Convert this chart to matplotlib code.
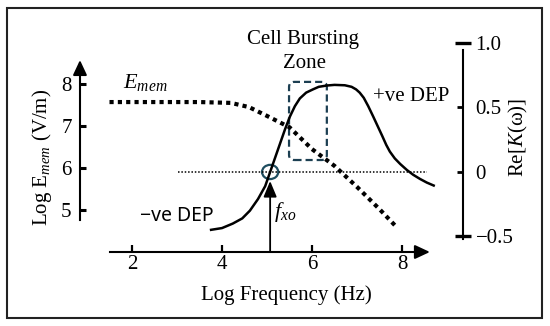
import matplotlib
matplotlib.use("Agg")
import matplotlib.pyplot as plt
from matplotlib.patches import Rectangle, FancyBboxPatch, Ellipse
from matplotlib.ticker import FixedLocator, FixedFormatter

plt.rcParams['font.family'] = ['Liberation Serif', 'DejaVu Serif']
plt.rcParams['mathtext.fontset'] = 'custom'
plt.rcParams['mathtext.rm'] = 'Liberation Serif'
plt.rcParams['mathtext.it'] = 'Liberation Serif:italic'
plt.rcParams['mathtext.bf'] = 'Liberation Serif:bold'

# ---- data ----
freq_E = [1.5, 2.5, 3.5, 4.2, 4.6, 5.0, 5.5, 6.0, 6.5, 7.0, 7.5, 7.9]
E_mem = [7.57, 7.57, 7.57, 7.55, 7.45, 7.24, 6.97, 6.45, 6.05, 5.55, 5.02, 4.57]

freq_K = [3.73, 4.0, 4.24, 4.45, 4.62, 4.8, 4.96, 5.07, 5.18, 5.29, 5.4, 5.51,
          5.62, 5.73, 5.87, 6.02, 6.15, 6.33, 6.5, 6.73, 6.88, 6.98, 7.06, 7.15, 7.25,
          7.36, 7.46, 7.56, 7.65, 7.73, 7.84, 7.96, 8.11, 8.25, 8.4, 8.55, 8.73]
K_re = [-0.45, -0.435, -0.40, -0.36, -0.30, -0.21, -0.11, 0.0, 0.11, 0.22, 0.33, 0.43,
        0.51, 0.57, 0.615, 0.64, 0.66, 0.67, 0.675, 0.672, 0.66, 0.64, 0.615, 0.575, 0.51,
        0.43, 0.355, 0.28, 0.21, 0.158, 0.105, 0.062, 0.015, -0.022, -0.054, -0.082, -0.109]

x_ticks = [2, 4, 6, 8]
x_ticklabels = ['2', '4', '6', '8']
E_ticks = [5, 6, 7, 8]
E_ticklabels = ['5', '6', '7', '8']
K_major = [0.0, 0.5]
K_major_labels = ['0', '0.5']
K_minor = [-0.5, 1.0]
K_minor_labels = ['\u22120.5', '1.0']

f_xo = 5.07
zone_lo, zone_hi = 5.49, 6.33
zone_E_lo, zone_E_hi = 6.19, 8.05
zero_line_x = [3.02, 8.56]

fig = plt.figure(figsize=(5.5, 3.26), dpi=100)
ax = fig.add_axes([0, 0, 1, 1])
ax.set_xlim(-0.933, 11.289)
ax.set_ylim(2.238, 10.0)
ax.patch.set_alpha(0)
ax2 = ax.twinx()
ax2.set_ylim(-1.194, 1.333)

lw_ax = 1.5
# left / bottom axes
for s in ['top', 'right']:
    ax.spines[s].set_visible(False)
ax.spines['left'].set_position(('data', 0.844))
ax.spines['left'].set_bounds(4.76, 8.3)
ax.spines['left'].set_linewidth(lw_ax)
ax.spines['bottom'].set_position(('data', 4.0))
ax.spines['bottom'].set_bounds(1.51, 8.4)
ax.spines['bottom'].set_linewidth(lw_ax)

ax.xaxis.set_major_locator(FixedLocator(x_ticks))
ax.xaxis.set_major_formatter(FixedFormatter(x_ticklabels))
ax.yaxis.set_major_locator(FixedLocator(E_ticks))
ax.yaxis.set_major_formatter(FixedFormatter(E_ticklabels))
ax.tick_params(axis='x', direction='in', length=5, width=1.6, labelsize=15, pad=2)
ax.tick_params(axis='y', direction='in', length=4, width=2.2, labelsize=15, pad=6)

# arrow heads for axes
ax.annotate('', xy=(0.844, 8.57), xytext=(0.844, 8.2),
            arrowprops=dict(arrowstyle='-|>,head_length=0.6,head_width=0.28',
                            lw=lw_ax, color='k', mutation_scale=15, shrinkA=0, shrinkB=0))
ax.annotate('', xy=(8.62, 4.0), xytext=(8.3, 4.0),
            arrowprops=dict(arrowstyle='-|>,head_length=0.6,head_width=0.28',
                            lw=lw_ax, color='k', mutation_scale=15, shrinkA=0, shrinkB=0))

# right axis
for s in ['top', 'left', 'bottom']:
    ax2.spines[s].set_visible(False)
ax2.spines['right'].set_position(('data', 9.356))
ax2.spines['right'].set_bounds(-0.52, 0.946)
ax2.spines['right'].set_linewidth(lw_ax)
ax2.yaxis.set_major_locator(FixedLocator(K_major))
ax2.yaxis.set_major_formatter(FixedFormatter(K_major_labels))
ax2.yaxis.set_minor_locator(FixedLocator(K_minor))
ax2.yaxis.set_minor_formatter(FixedFormatter(K_minor_labels))
ax2.tick_params(axis='y', which='major', direction='in', length=4, width=2.0,
                labelsize=15, pad=9)
ax2.tick_params(axis='y', which='minor', direction='inout', length=12, width=2.4,
                labelsize=15, pad=3, labelright=True)

# curves
ax.plot(freq_E, E_mem, color='k', lw=3, linestyle=(0, (1, 1)), dash_capstyle='butt')
ax2.plot(freq_K, K_re, color='k', lw=1.8, solid_capstyle='butt', solid_joinstyle='round')
ax2.plot(zero_line_x, [0, 0], color='k', lw=1.1, linestyle=(0, (1, 1.2)))

# crossover circle & arrow
ax2.add_patch(Ellipse((f_xo, 0.0), 0.36, 0.11, fill=False, ec='#1f4e60', lw=1.6))
ax.annotate('', xy=(f_xo, 5.69), xytext=(f_xo, 4.0),
            arrowprops=dict(arrowstyle='-|>,head_length=0.6,head_width=0.25',
                            lw=1.3, color='k', mutation_scale=16, shrinkA=0, shrinkB=0))

# bursting zone box
ax.add_patch(FancyBboxPatch((zone_lo, zone_E_lo), zone_hi - zone_lo, zone_E_hi - zone_E_lo,
                            boxstyle='round,pad=0,rounding_size=0.12',
                            fill=False, ec='#1c3f52', lw=1.6, linestyle=(0, (3.2, 1.8))))

# texts
ax.text(5.8, 9.07, 'Cell Bursting', ha='center', va='center', fontsize=15)
ax.text(5.84, 8.48, 'Zone', ha='center', va='center', fontsize=15)
ax.text(8.2, 7.71, '+ve DEP', ha='center', va='center', fontsize=15)
ax.text(3.0, 4.86, '\u2212ve DEP', ha='center', va='center', fontsize=14,
        family=['Noto Sans', 'DejaVu Sans'])
ax.text(1.8, 7.9, r'$E_{mem}$', ha='left', va='baseline', fontsize=16)
ax.text(5.16, 4.95, r'$f_{xo}$', ha='left', va='center', fontsize=16)
ax.text(5.44, 2.98, 'Log Frequency (Hz)', ha='center', va='center', fontsize=15)
ax.text(0.0, 6.26, r'Log E$_{mem}$ (V/m)', ha='center', va='center', fontsize=15,
        rotation=90)
ax2.text(10.58, 0.264, r'Re[$K$(ω)]', ha='center', va='center', fontsize=15,
         rotation=90)

# frame
fig.add_artist(Rectangle((7 / 550, 8 / 326), 535 / 550, 310 / 326, transform=fig.transFigure,
                         fill=False, ec='#222222', lw=1.5))

fig.savefig('out.png', dpi=100)
